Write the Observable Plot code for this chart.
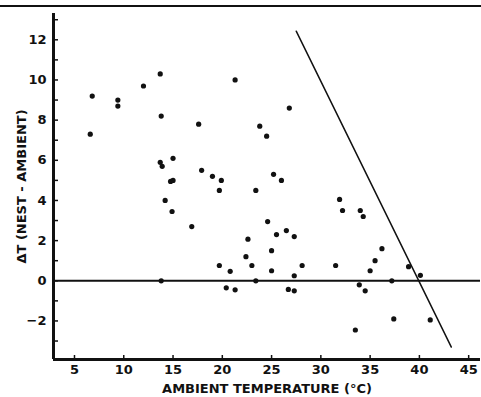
<!DOCTYPE html>
<html>
<head>
<meta charset="utf-8">
<script src="https://cdn.jsdelivr.net/npm/d3@7"></script>
<script src="https://cdn.jsdelivr.net/npm/@observablehq/plot@0.6"></script>
<style>
  html, body { margin: 0; padding: 0; background: #fff; }
  #wrap { position: relative; width: 481px; height: 397px; }
  #topline { position: absolute; left: 0; top: 5px; width: 481px; height: 0; border-top: 2px solid #111; }
</style>
</head>
<body>
<div id="wrap"><div id="topline"></div></div>
<script>
// Ambient temperature (°C)
const ambient = [6.8, 6.6, 9.4, 9.4, 12.0, 13.7, 21.3, 13.8, 17.6, 23.8, 24.5, 26.8,
  13.7, 13.9, 15.0, 14.75, 15.0, 14.2, 14.9, 16.9, 17.9, 19.0, 19.9, 19.7,
  23.4, 25.2, 26.0, 24.6, 26.5, 27.3, 25.5, 22.6, 22.4, 25.0, 19.7, 20.8,
  23.0, 25.0, 27.3, 28.1, 13.8, 23.4, 20.4, 21.3, 26.7, 27.3, 31.5, 31.9,
  32.2, 34.0, 34.3, 36.2, 35.5, 35.0, 33.9, 34.5, 37.2, 38.9, 40.1, 37.4,
  41.1, 33.5];
// ΔT (nest - ambient)
const deltaT = [9.2, 7.3, 9.0, 8.7, 9.7, 10.3, 10.0, 8.2, 7.8, 7.7, 7.2, 8.6,
  5.9, 5.7, 6.1, 4.95, 5.0, 4.0, 3.45, 2.7, 5.5, 5.2, 5.0, 4.5,
  4.5, 5.3, 5.0, 2.95, 2.5, 2.2, 2.3, 2.07, 1.2, 1.5, 0.76, 0.47,
  0.76, 0.5, 0.25, 0.76, 0.0, 0.0, -0.35, -0.45, -0.43, -0.5, 0.76, 4.05,
  3.5, 3.5, 3.2, 1.6, 1.0, 0.5, -0.2, -0.5, 0.0, 0.7, 0.27, -1.9,
  -1.95, -2.45];
// Limit line
const limitX = [27.5, 43.24];
const limitY = [12.43, -3.30];
// Axis domains and ticks
const xDomain = [2.87, 46.2];
const yDomain = [-3.92, 13.31];
const xTicks = [5, 10, 15, 20, 25, 30, 35, 40, 45];
const yTicksMinor = [-3, -2, -1, 0, 1, 2, 3, 4, 5, 6, 7, 8, 9, 10, 11, 12, 13];
const yTicksLabeled = [-2, 0, 2, 4, 6, 8, 10, 12];
const zeroLine = [0];

const points = ambient.map((t, i) => ({t, d: deltaT[i]}));
const limit = limitX.map((x, i) => ({x, y: limitY[i]}));

const chart = Plot.plot({
  width: 481,
  height: 397,
  marginLeft: 53,
  marginRight: 1,
  marginTop: 13,
  marginBottom: 38,
  style: { fontFamily: "'DejaVu Sans', sans-serif", fontSize: "13px", fontWeight: "bold", color: "#111", background: "#fff" },
  x: { domain: xDomain },
  y: { domain: yDomain },
  marks: [
    Plot.axisY(yTicksMinor, { tickSize: -5, tickFormat: () => "", strokeWidth: 1.5, label: null }),
    Plot.axisY(yTicksLabeled, { tickSize: 0, tickPadding: 7, fontSize: 13, label: "ΔT (NEST - AMBIENT)", labelAnchor: "center", labelArrow: "none", labelOffset: 37 }),
    Plot.axisX(xTicks, { tickSize: -4, tickPadding: 9, strokeWidth: 1.5, fontSize: 13, label: "AMBIENT TEMPERATURE (°C)", labelAnchor: "center", labelArrow: "none", labelOffset: 33 }),
    Plot.ruleY(zeroLine, { stroke: "#111", strokeWidth: 2 }),
    Plot.ruleX([xDomain[0]], { stroke: "#111", strokeWidth: 3 }),
    Plot.ruleY([yDomain[0]], { stroke: "#111", strokeWidth: 3 }),
    Plot.line(limit, { x: "x", y: "y", stroke: "#111", strokeWidth: 1.5 }),
    Plot.dot(points, { x: "t", y: "d", r: 2.6, fill: "#111", stroke: "none" })
  ]
});
document.getElementById("wrap").appendChild(chart);
</script>
</body>
</html>
